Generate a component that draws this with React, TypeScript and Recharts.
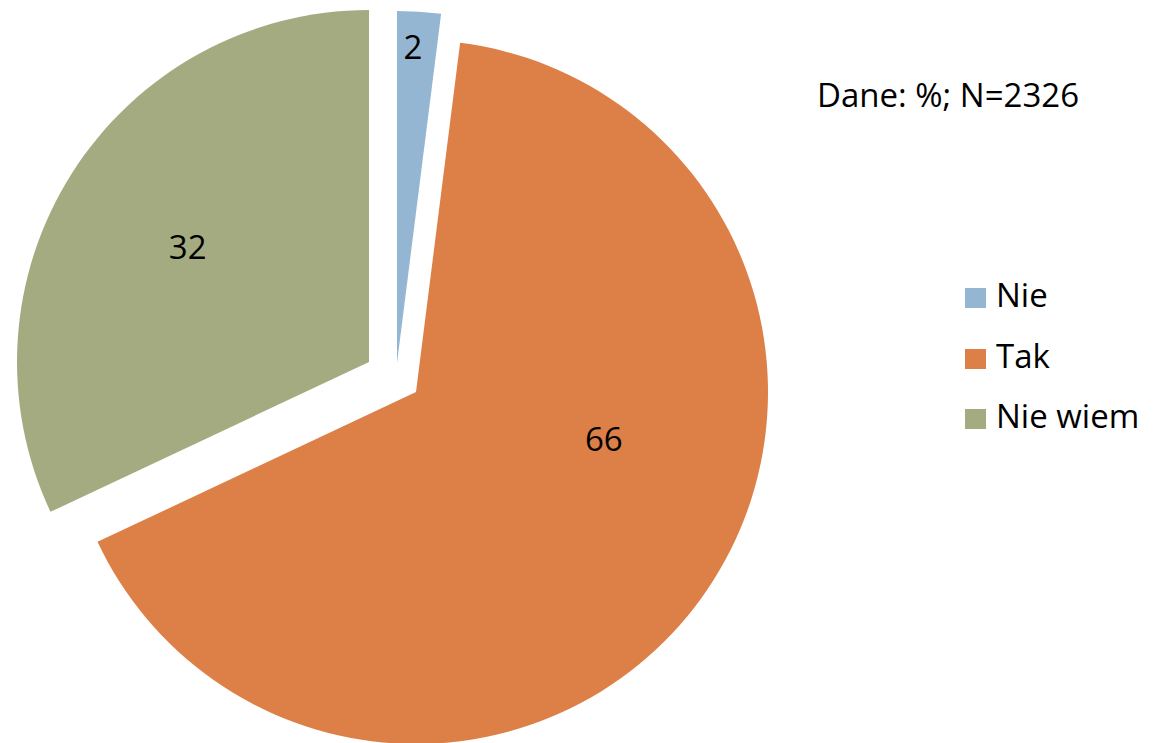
import React from "react";
import { PieChart, Pie, Cell } from "recharts";

const NAMES = ["Nie", "Tak", "Nie wiem"];
const VALUES = [2, 66, 32];
const COLORS = ["#94B6D2", "#DD8047", "#A5AB81"];

// each slice is pulled out of the pie by its own amount
const SLICE_CENTERS = [
  { cx: 397, cy: 363 },
  { cx: 416, cy: 392 },
  { cx: 369, cy: 362 },
];
const LABEL_PLACE = [
  { r: 0.9, shift: 0.7 },
  { r: 0.55, shift: 22 },
  { r: 0.61, shift: 0 },
];

const FONT = "'Open Sans', sans-serif";
const RAD = Math.PI / 180;

const data = NAMES.map((name, i) => ({ name, value: VALUES[i] }));

function makeLabel(k: number) {
  return (props: any) => {
    const { cx, cy, midAngle, outerRadius, index, value } = props;
    if (index !== k) return null;
    const a = (midAngle + LABEL_PLACE[k].shift) * RAD;
    const r = outerRadius * LABEL_PLACE[k].r;
    const x = cx + r * Math.cos(a);
    const y = cy - r * Math.sin(a);
    return (
      <text x={x} y={y} textAnchor="middle" dominantBaseline="central" fill="#000" fontSize={33} fontFamily={FONT}>
        {value}
      </text>
    );
  };
}

export default function App() {
  return (
    <div style={{ position: "absolute", left: 0, top: 0, width: 1158, height: 743, background: "#fff", fontFamily: FONT }}>
      <PieChart width={1158} height={743} margin={{ top: 0, right: 0, bottom: 0, left: 0 }}>
        {SLICE_CENTERS.map((c, k) => (
          <Pie
            key={k}
            data={data}
            dataKey="value"
            nameKey="name"
            cx={c.cx}
            cy={c.cy}
            outerRadius={352}
            startAngle={90}
            endAngle={-270}
            stroke="none"
            labelLine={false}
            label={makeLabel(k)}
            isAnimationActive={false}
          >
            {data.map((_, i) => (
              <Cell key={i} fill={i === k ? COLORS[i] : "transparent"} />
            ))}
          </Pie>
        ))}
      </PieChart>
      <div style={{ position: "absolute", left: 817, top: 75, fontSize: 33, lineHeight: "40px", color: "#000", whiteSpace: "nowrap" }}>
        Dane: %; N=2326
      </div>
      {NAMES.map((n, i) => (
        <React.Fragment key={n}>
          <div style={{ position: "absolute", left: 965, top: 288 + i * 60.5, width: 21, height: 20, background: COLORS[i] }} />
          <div style={{ position: "absolute", left: 996, top: 275 + i * 60.5, fontSize: 33, lineHeight: "40px", color: "#000", whiteSpace: "nowrap" }}>
            {n}
          </div>
        </React.Fragment>
      ))}
    </div>
  );
}
